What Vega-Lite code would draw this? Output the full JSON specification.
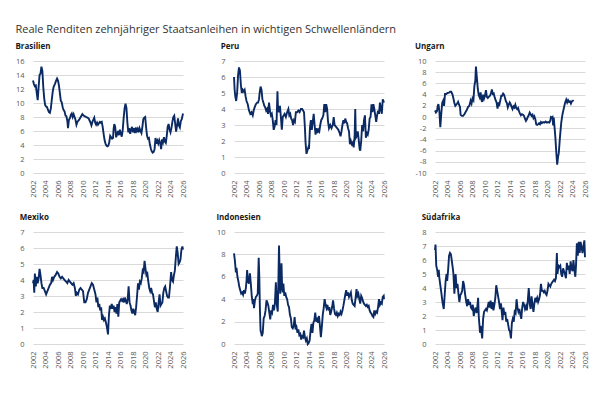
{
"$schema": "https://vega.github.io/schema/vega-lite/v6.json",
"background": "white",
"padding": {"left": 15, "top": 24, "right": 5, "bottom": 5},
"title": {"text": "Reale Renditen zehnjähriger Staatsanleihen in wichtigen Schwellenländern", "anchor": "start", "fontSize": 11, "font": "Open Sans", "fontWeight": "normal", "color": "#333333", "offset": 8},
"config": {
  "font": "Open Sans",
  "view": {"stroke": null},
  "axis": {"labelFont": "Open Sans", "labelFontSize": 7.5, "labelColor": "#595959", "domain": false, "ticks": false, "title": null},
  "axisX": {"grid": false, "labelAngle": -90, "labelPadding": 7},
  "axisY": {"gridColor": "#d9d9d9", "gridWidth": 1, "labelPadding": 9, "labelExpr": "replace(datum.label, '\u2212', '-')"},
  "line": {"color": "#0b2a63", "strokeWidth": 1.9, "clip": true, "strokeJoin": "miter"}
},
"datasets": {
"bra": [{"t":2002.0,"v":13.2},{"t":2002.15,"v":12.7},{"t":2002.3,"v":12.4},{"t":2002.45,"v":12.5},{"t":2002.6,"v":11.4},{"t":2002.75,"v":10.4},{"t":2002.9,"v":12.3},{"t":2003.05,"v":14.0},{"t":2003.2,"v":14.2},{"t":2003.35,"v":15.2},{"t":2003.5,"v":14.6},{"t":2003.65,"v":12.2},{"t":2003.8,"v":10.6},{"t":2003.95,"v":9.7},{"t":2004.1,"v":9.5},{"t":2004.25,"v":9.4},{"t":2004.4,"v":9.0},{"t":2004.55,"v":8.7},{"t":2004.7,"v":8.6},{"t":2004.85,"v":9.2},{"t":2005.0,"v":10.4},{"t":2005.15,"v":11.6},{"t":2005.3,"v":12.3},{"t":2005.5,"v":12.7},{"t":2005.7,"v":13.2},{"t":2005.85,"v":13.5},{"t":2006.0,"v":13.2},{"t":2006.15,"v":12.5},{"t":2006.3,"v":11.4},{"t":2006.45,"v":10.3},{"t":2006.6,"v":10.1},{"t":2006.75,"v":9.4},{"t":2006.9,"v":9.0},{"t":2007.05,"v":8.8},{"t":2007.2,"v":8.2},{"t":2007.35,"v":8.1},{"t":2007.5,"v":7.4},{"t":2007.6,"v":6.4},{"t":2007.75,"v":7.6},{"t":2007.9,"v":7.8},{"t":2008.05,"v":8.3},{"t":2008.2,"v":8.5},{"t":2008.35,"v":8.0},{"t":2008.5,"v":8.4},{"t":2008.65,"v":8.0},{"t":2008.8,"v":7.6},{"t":2008.95,"v":6.9},{"t":2009.1,"v":7.3},{"t":2009.3,"v":7.5},{"t":2009.5,"v":7.8},{"t":2009.7,"v":8.1},{"t":2009.9,"v":8.4},{"t":2010.1,"v":8.2},{"t":2010.3,"v":8.1},{"t":2010.5,"v":8.0},{"t":2010.7,"v":7.9},{"t":2010.9,"v":7.8},{"t":2011.05,"v":7.5},{"t":2011.2,"v":7.2},{"t":2011.35,"v":6.8},{"t":2011.5,"v":7.3},{"t":2011.65,"v":7.6},{"t":2011.8,"v":7.9},{"t":2011.95,"v":7.2},{"t":2012.1,"v":6.9},{"t":2012.25,"v":7.2},{"t":2012.4,"v":6.9},{"t":2012.55,"v":7.1},{"t":2012.7,"v":7.3},{"t":2012.85,"v":7.2},{"t":2013.0,"v":7.3},{"t":2013.15,"v":6.6},{"t":2013.3,"v":5.6},{"t":2013.45,"v":4.7},{"t":2013.6,"v":4.2},{"t":2013.75,"v":3.9},{"t":2013.9,"v":3.8},{"t":2014.05,"v":3.9},{"t":2014.2,"v":4.4},{"t":2014.35,"v":5.3},{"t":2014.5,"v":5.1},{"t":2014.65,"v":4.9},{"t":2014.8,"v":5.0},{"t":2014.9,"v":6.3},{"t":2015.0,"v":7.0},{"t":2015.15,"v":6.6},{"t":2015.3,"v":5.1},{"t":2015.45,"v":5.5},{"t":2015.6,"v":6.0},{"t":2015.75,"v":5.4},{"t":2015.9,"v":6.2},{"t":2016.05,"v":5.6},{"t":2016.2,"v":5.2},{"t":2016.35,"v":6.1},{"t":2016.5,"v":7.8},{"t":2016.65,"v":9.2},{"t":2016.8,"v":9.9},{"t":2016.95,"v":9.3},{"t":2017.1,"v":7.2},{"t":2017.25,"v":5.8},{"t":2017.4,"v":6.4},{"t":2017.55,"v":5.6},{"t":2017.7,"v":6.2},{"t":2017.85,"v":6.6},{"t":2018.0,"v":5.8},{"t":2018.15,"v":6.4},{"t":2018.3,"v":5.7},{"t":2018.45,"v":6.5},{"t":2018.6,"v":6.0},{"t":2018.75,"v":6.3},{"t":2018.9,"v":5.8},{"t":2019.05,"v":6.4},{"t":2019.2,"v":6.0},{"t":2019.35,"v":5.7},{"t":2019.5,"v":6.6},{"t":2019.65,"v":7.7},{"t":2019.8,"v":7.9},{"t":2019.95,"v":8.0},{"t":2020.1,"v":6.5},{"t":2020.25,"v":5.3},{"t":2020.4,"v":4.9},{"t":2020.55,"v":5.0},{"t":2020.7,"v":4.1},{"t":2020.85,"v":3.5},{"t":2021.0,"v":3.1},{"t":2021.15,"v":2.9},{"t":2021.3,"v":3.0},{"t":2021.45,"v":3.4},{"t":2021.6,"v":5.0},{"t":2021.75,"v":4.2},{"t":2021.9,"v":4.6},{"t":2022.05,"v":4.2},{"t":2022.2,"v":4.7},{"t":2022.35,"v":4.3},{"t":2022.5,"v":3.4},{"t":2022.65,"v":4.8},{"t":2022.8,"v":4.4},{"t":2022.95,"v":5.1},{"t":2023.1,"v":4.5},{"t":2023.25,"v":4.3},{"t":2023.4,"v":5.3},{"t":2023.55,"v":6.6},{"t":2023.7,"v":7.0},{"t":2023.85,"v":6.2},{"t":2024.0,"v":5.8},{"t":2024.15,"v":6.4},{"t":2024.3,"v":7.3},{"t":2024.45,"v":8.0},{"t":2024.6,"v":8.2},{"t":2024.75,"v":7.0},{"t":2024.9,"v":5.9},{"t":2025.05,"v":6.8},{"t":2025.2,"v":7.8},{"t":2025.35,"v":6.8},{"t":2025.5,"v":6.5},{"t":2025.65,"v":7.4},{"t":2025.8,"v":7.7},{"t":2026.0,"v":8.5}],
"per": [{"t":2002.0,"v":6.0},{"t":2002.1,"v":5.2},{"t":2002.2,"v":4.8},{"t":2002.35,"v":4.5},{"t":2002.5,"v":5.0},{"t":2002.65,"v":6.1},{"t":2002.8,"v":6.6},{"t":2002.95,"v":6.4},{"t":2003.1,"v":5.5},{"t":2003.25,"v":5.0},{"t":2003.4,"v":5.2},{"t":2003.55,"v":5.1},{"t":2003.7,"v":5.2},{"t":2003.85,"v":4.8},{"t":2004.0,"v":4.5},{"t":2004.2,"v":4.3},{"t":2004.4,"v":3.9},{"t":2004.6,"v":3.7},{"t":2004.8,"v":3.8},{"t":2005.0,"v":3.6},{"t":2005.15,"v":3.9},{"t":2005.3,"v":4.1},{"t":2005.5,"v":4.3},{"t":2005.7,"v":4.4},{"t":2005.85,"v":4.4},{"t":2006.0,"v":4.6},{"t":2006.1,"v":5.0},{"t":2006.25,"v":5.4},{"t":2006.4,"v":5.2},{"t":2006.55,"v":4.6},{"t":2006.7,"v":4.4},{"t":2006.85,"v":4.2},{"t":2007.0,"v":4.1},{"t":2007.15,"v":3.9},{"t":2007.3,"v":4.0},{"t":2007.45,"v":3.7},{"t":2007.6,"v":4.4},{"t":2007.75,"v":3.9},{"t":2007.9,"v":3.6},{"t":2008.05,"v":3.7},{"t":2008.2,"v":3.3},{"t":2008.35,"v":2.7},{"t":2008.5,"v":2.9},{"t":2008.65,"v":3.3},{"t":2008.8,"v":3.0},{"t":2008.95,"v":5.1},{"t":2009.05,"v":4.0},{"t":2009.2,"v":3.8},{"t":2009.35,"v":4.2},{"t":2009.5,"v":3.5},{"t":2009.65,"v":2.7},{"t":2009.8,"v":3.5},{"t":2009.95,"v":3.6},{"t":2010.1,"v":3.7},{"t":2010.3,"v":3.5},{"t":2010.5,"v":3.8},{"t":2010.7,"v":4.0},{"t":2010.85,"v":3.6},{"t":2011.0,"v":3.7},{"t":2011.15,"v":3.4},{"t":2011.3,"v":3.3},{"t":2011.45,"v":3.0},{"t":2011.6,"v":3.3},{"t":2011.75,"v":3.2},{"t":2011.9,"v":3.8},{"t":2012.1,"v":3.8},{"t":2012.3,"v":3.9},{"t":2012.5,"v":3.8},{"t":2012.7,"v":4.0},{"t":2012.9,"v":4.0},{"t":2013.05,"v":3.9},{"t":2013.2,"v":3.8},{"t":2013.35,"v":2.8},{"t":2013.45,"v":1.9},{"t":2013.6,"v":1.2},{"t":2013.75,"v":1.4},{"t":2013.9,"v":1.6},{"t":2014.0,"v":1.5},{"t":2014.15,"v":2.8},{"t":2014.3,"v":3.3},{"t":2014.45,"v":2.7},{"t":2014.6,"v":3.2},{"t":2014.75,"v":3.7},{"t":2014.9,"v":3.0},{"t":2015.05,"v":2.4},{"t":2015.2,"v":2.8},{"t":2015.35,"v":2.5},{"t":2015.5,"v":2.7},{"t":2015.65,"v":2.6},{"t":2015.8,"v":3.0},{"t":2015.95,"v":3.3},{"t":2016.1,"v":3.4},{"t":2016.3,"v":3.6},{"t":2016.45,"v":4.3},{"t":2016.6,"v":3.8},{"t":2016.75,"v":4.3},{"t":2016.9,"v":4.0},{"t":2017.05,"v":3.2},{"t":2017.2,"v":2.8},{"t":2017.4,"v":3.0},{"t":2017.6,"v":2.8},{"t":2017.8,"v":3.0},{"t":2017.95,"v":3.5},{"t":2018.1,"v":3.0},{"t":2018.3,"v":2.9},{"t":2018.5,"v":2.8},{"t":2018.7,"v":2.7},{"t":2018.9,"v":2.5},{"t":2019.05,"v":2.3},{"t":2019.2,"v":2.6},{"t":2019.35,"v":3.0},{"t":2019.5,"v":3.3},{"t":2019.65,"v":3.1},{"t":2019.8,"v":3.4},{"t":2019.95,"v":3.2},{"t":2020.1,"v":3.1},{"t":2020.25,"v":2.8},{"t":2020.4,"v":2.6},{"t":2020.55,"v":1.8},{"t":2020.7,"v":2.0},{"t":2020.85,"v":1.8},{"t":2021.0,"v":1.9},{"t":2021.15,"v":1.6},{"t":2021.3,"v":2.3},{"t":2021.4,"v":4.0},{"t":2021.5,"v":2.2},{"t":2021.65,"v":2.3},{"t":2021.8,"v":2.6},{"t":2021.95,"v":2.1},{"t":2022.1,"v":1.5},{"t":2022.2,"v":1.4},{"t":2022.35,"v":2.0},{"t":2022.5,"v":3.0},{"t":2022.65,"v":2.6},{"t":2022.8,"v":3.3},{"t":2022.95,"v":3.6},{"t":2023.1,"v":2.2},{"t":2023.25,"v":2.5},{"t":2023.4,"v":2.4},{"t":2023.55,"v":2.7},{"t":2023.7,"v":3.4},{"t":2023.85,"v":3.5},{"t":2024.0,"v":4.3},{"t":2024.15,"v":3.8},{"t":2024.3,"v":4.3},{"t":2024.45,"v":4.0},{"t":2024.6,"v":3.6},{"t":2024.75,"v":3.2},{"t":2024.9,"v":3.6},{"t":2025.05,"v":3.9},{"t":2025.2,"v":3.7},{"t":2025.35,"v":4.4},{"t":2025.5,"v":4.0},{"t":2025.65,"v":3.7},{"t":2025.8,"v":4.6},{"t":2026.0,"v":4.4}],
"hun": [{"t":2002.0,"v":1.2},{"t":2002.15,"v":0.8},{"t":2002.3,"v":1.0},{"t":2002.45,"v":2.0},{"t":2002.55,"v":2.3},{"t":2002.7,"v":1.0},{"t":2002.85,"v":-1.8},{"t":2003.0,"v":0.5},{"t":2003.15,"v":2.5},{"t":2003.3,"v":2.9},{"t":2003.45,"v":2.0},{"t":2003.6,"v":4.1},{"t":2003.8,"v":4.1},{"t":2004.0,"v":4.3},{"t":2004.2,"v":4.3},{"t":2004.4,"v":4.5},{"t":2004.6,"v":4.5},{"t":2004.8,"v":4.0},{"t":2004.95,"v":3.3},{"t":2005.1,"v":2.5},{"t":2005.25,"v":2.0},{"t":2005.4,"v":2.2},{"t":2005.55,"v":2.4},{"t":2005.7,"v":2.7},{"t":2005.85,"v":2.2},{"t":2006.0,"v":1.8},{"t":2006.1,"v":0.4},{"t":2006.3,"v":0.2},{"t":2006.5,"v":0.2},{"t":2006.7,"v":0.5},{"t":2006.9,"v":0.9},{"t":2007.1,"v":1.3},{"t":2007.3,"v":1.8},{"t":2007.5,"v":2.0},{"t":2007.7,"v":2.9},{"t":2007.85,"v":2.4},{"t":2008.0,"v":3.3},{"t":2008.15,"v":3.0},{"t":2008.3,"v":5.5},{"t":2008.45,"v":6.5},{"t":2008.55,"v":9.0},{"t":2008.7,"v":7.0},{"t":2008.85,"v":5.0},{"t":2009.0,"v":3.9},{"t":2009.15,"v":3.5},{"t":2009.3,"v":4.4},{"t":2009.45,"v":3.0},{"t":2009.55,"v":2.7},{"t":2009.7,"v":4.0},{"t":2009.85,"v":3.3},{"t":2010.0,"v":3.8},{"t":2010.15,"v":4.8},{"t":2010.3,"v":3.6},{"t":2010.45,"v":3.4},{"t":2010.6,"v":3.6},{"t":2010.8,"v":3.8},{"t":2010.95,"v":4.2},{"t":2011.1,"v":4.9},{"t":2011.25,"v":4.1},{"t":2011.4,"v":4.2},{"t":2011.55,"v":3.5},{"t":2011.7,"v":3.0},{"t":2011.85,"v":2.6},{"t":2012.0,"v":1.5},{"t":2012.15,"v":2.4},{"t":2012.3,"v":2.2},{"t":2012.45,"v":3.0},{"t":2012.6,"v":3.8},{"t":2012.75,"v":3.8},{"t":2012.9,"v":4.2},{"t":2013.05,"v":4.0},{"t":2013.2,"v":3.4},{"t":2013.35,"v":2.8},{"t":2013.5,"v":2.5},{"t":2013.65,"v":1.7},{"t":2013.8,"v":2.2},{"t":2013.95,"v":2.6},{"t":2014.1,"v":2.3},{"t":2014.25,"v":1.8},{"t":2014.4,"v":1.4},{"t":2014.55,"v":1.9},{"t":2014.7,"v":1.7},{"t":2014.85,"v":2.2},{"t":2015.0,"v":1.6},{"t":2015.15,"v":1.4},{"t":2015.3,"v":1.6},{"t":2015.45,"v":1.0},{"t":2015.6,"v":0.6},{"t":2015.75,"v":0.3},{"t":2015.9,"v":0.5},{"t":2016.1,"v":0.4},{"t":2016.25,"v":0.2},{"t":2016.4,"v":-0.3},{"t":2016.55,"v":-0.7},{"t":2016.7,"v":-0.4},{"t":2016.85,"v":0.0},{"t":2017.0,"v":0.3},{"t":2017.15,"v":0.8},{"t":2017.3,"v":0.5},{"t":2017.45,"v":0.2},{"t":2017.6,"v":0.4},{"t":2017.75,"v":-0.2},{"t":2017.9,"v":0.1},{"t":2018.05,"v":-0.4},{"t":2018.2,"v":-1.3},{"t":2018.35,"v":-1.4},{"t":2018.5,"v":-1.3},{"t":2018.65,"v":-1.1},{"t":2018.8,"v":-1.3},{"t":2018.95,"v":-0.9},{"t":2019.1,"v":-1.1},{"t":2019.3,"v":-0.9},{"t":2019.5,"v":-1.0},{"t":2019.7,"v":-0.8},{"t":2019.9,"v":-1.0},{"t":2020.1,"v":-0.9},{"t":2020.3,"v":-1.0},{"t":2020.45,"v":-0.6},{"t":2020.55,"v":0.0},{"t":2020.7,"v":-0.1},{"t":2020.8,"v":0.0},{"t":2020.9,"v":-1.5},{"t":2021.0,"v":-0.1},{"t":2021.1,"v":-1.5},{"t":2021.25,"v":-3.5},{"t":2021.4,"v":-6.2},{"t":2021.55,"v":-8.5},{"t":2021.7,"v":-7.0},{"t":2021.8,"v":-6.5},{"t":2022.0,"v":-3.5},{"t":2022.2,"v":-1.0},{"t":2022.4,"v":0.5},{"t":2022.6,"v":1.5},{"t":2022.8,"v":2.5},{"t":2023.0,"v":3.1},{"t":2023.15,"v":2.6},{"t":2023.3,"v":3.0},{"t":2023.45,"v":2.7},{"t":2023.6,"v":2.8},{"t":2023.75,"v":2.4},{"t":2023.9,"v":2.8},{"t":2024.05,"v":2.9},{"t":2024.2,"v":3.0}],
"mex": [{"t":2002.0,"v":3.8},{"t":2002.1,"v":4.0},{"t":2002.2,"v":3.2},{"t":2002.3,"v":4.4},{"t":2002.45,"v":3.6},{"t":2002.6,"v":4.2},{"t":2002.75,"v":3.8},{"t":2002.9,"v":4.1},{"t":2003.05,"v":4.7},{"t":2003.2,"v":4.3},{"t":2003.35,"v":3.8},{"t":2003.5,"v":3.5},{"t":2003.7,"v":3.5},{"t":2003.9,"v":3.3},{"t":2004.1,"v":3.1},{"t":2004.3,"v":3.3},{"t":2004.5,"v":3.5},{"t":2004.7,"v":3.7},{"t":2004.9,"v":3.8},{"t":2005.05,"v":4.2},{"t":2005.2,"v":4.0},{"t":2005.4,"v":4.2},{"t":2005.6,"v":4.3},{"t":2005.85,"v":4.5},{"t":2006.05,"v":4.4},{"t":2006.25,"v":4.2},{"t":2006.45,"v":4.1},{"t":2006.65,"v":4.2},{"t":2006.85,"v":4.1},{"t":2007.05,"v":4.0},{"t":2007.3,"v":3.9},{"t":2007.5,"v":3.8},{"t":2007.7,"v":4.0},{"t":2007.9,"v":3.9},{"t":2008.1,"v":3.8},{"t":2008.3,"v":3.7},{"t":2008.5,"v":3.8},{"t":2008.7,"v":3.5},{"t":2008.85,"v":3.0},{"t":2009.0,"v":3.2},{"t":2009.2,"v":3.1},{"t":2009.4,"v":3.4},{"t":2009.6,"v":3.5},{"t":2009.8,"v":3.4},{"t":2010.0,"v":3.3},{"t":2010.2,"v":2.6},{"t":2010.4,"v":2.6},{"t":2010.6,"v":2.8},{"t":2010.8,"v":3.2},{"t":2011.0,"v":3.4},{"t":2011.2,"v":3.6},{"t":2011.4,"v":3.8},{"t":2011.6,"v":3.7},{"t":2011.8,"v":3.4},{"t":2012.0,"v":3.1},{"t":2012.15,"v":2.6},{"t":2012.3,"v":2.9},{"t":2012.45,"v":2.3},{"t":2012.6,"v":2.5},{"t":2012.75,"v":2.1},{"t":2012.9,"v":2.3},{"t":2013.05,"v":1.5},{"t":2013.2,"v":1.7},{"t":2013.35,"v":1.5},{"t":2013.5,"v":1.6},{"t":2013.7,"v":1.3},{"t":2013.85,"v":1.0},{"t":2014.0,"v":0.6},{"t":2014.15,"v":1.8},{"t":2014.3,"v":2.4},{"t":2014.45,"v":2.2},{"t":2014.6,"v":2.5},{"t":2014.75,"v":2.2},{"t":2014.9,"v":2.4},{"t":2015.05,"v":2.0},{"t":2015.2,"v":2.3},{"t":2015.35,"v":1.9},{"t":2015.5,"v":2.5},{"t":2015.65,"v":1.7},{"t":2015.8,"v":2.6},{"t":2015.95,"v":2.7},{"t":2016.1,"v":2.8},{"t":2016.25,"v":2.7},{"t":2016.4,"v":2.8},{"t":2016.55,"v":2.6},{"t":2016.7,"v":2.9},{"t":2016.85,"v":2.7},{"t":2017.0,"v":2.5},{"t":2017.15,"v":2.8},{"t":2017.3,"v":3.6},{"t":2017.45,"v":2.6},{"t":2017.6,"v":2.4},{"t":2017.75,"v":2.1},{"t":2017.9,"v":1.9},{"t":2018.05,"v":2.2},{"t":2018.2,"v":2.0},{"t":2018.35,"v":1.8},{"t":2018.5,"v":2.3},{"t":2018.65,"v":3.0},{"t":2018.8,"v":3.8},{"t":2018.95,"v":3.4},{"t":2019.1,"v":3.9},{"t":2019.25,"v":3.8},{"t":2019.4,"v":4.1},{"t":2019.55,"v":4.6},{"t":2019.7,"v":4.5},{"t":2019.85,"v":5.2},{"t":2020.0,"v":4.7},{"t":2020.15,"v":4.3},{"t":2020.3,"v":4.4},{"t":2020.45,"v":3.9},{"t":2020.6,"v":3.5},{"t":2020.75,"v":3.3},{"t":2020.9,"v":3.5},{"t":2021.05,"v":3.2},{"t":2021.2,"v":3.1},{"t":2021.35,"v":2.7},{"t":2021.5,"v":2.3},{"t":2021.65,"v":2.6},{"t":2021.8,"v":2.2},{"t":2021.95,"v":2.0},{"t":2022.1,"v":2.6},{"t":2022.25,"v":3.1},{"t":2022.4,"v":2.4},{"t":2022.55,"v":2.5},{"t":2022.7,"v":2.6},{"t":2022.85,"v":3.2},{"t":2023.0,"v":3.5},{"t":2023.15,"v":3.6},{"t":2023.3,"v":3.3},{"t":2023.45,"v":3.0},{"t":2023.6,"v":2.9},{"t":2023.75,"v":2.9},{"t":2023.9,"v":3.5},{"t":2024.1,"v":4.5},{"t":2024.25,"v":4.0},{"t":2024.4,"v":3.9},{"t":2024.55,"v":4.3},{"t":2024.7,"v":4.6},{"t":2024.85,"v":5.4},{"t":2025.0,"v":6.1},{"t":2025.15,"v":5.7},{"t":2025.3,"v":5.0},{"t":2025.45,"v":5.1},{"t":2025.6,"v":5.3},{"t":2025.75,"v":5.9},{"t":2025.9,"v":6.1},{"t":2026.0,"v":5.9}],
"idn": [{"t":2002.0,"v":8.1},{"t":2002.15,"v":7.4},{"t":2002.3,"v":6.4},{"t":2002.4,"v":6.8},{"t":2002.55,"v":6.0},{"t":2002.7,"v":5.6},{"t":2002.85,"v":5.1},{"t":2003.0,"v":4.8},{"t":2003.15,"v":4.5},{"t":2003.3,"v":4.6},{"t":2003.45,"v":4.4},{"t":2003.6,"v":4.8},{"t":2003.75,"v":4.5},{"t":2003.9,"v":5.0},{"t":2004.0,"v":5.6},{"t":2004.1,"v":6.6},{"t":2004.25,"v":5.6},{"t":2004.4,"v":5.4},{"t":2004.55,"v":6.3},{"t":2004.7,"v":5.3},{"t":2004.85,"v":4.2},{"t":2004.95,"v":3.8},{"t":2005.1,"v":4.0},{"t":2005.2,"v":3.2},{"t":2005.35,"v":3.9},{"t":2005.5,"v":4.2},{"t":2005.65,"v":4.3},{"t":2005.8,"v":4.5},{"t":2005.95,"v":7.7},{"t":2006.05,"v":6.0},{"t":2006.15,"v":3.0},{"t":2006.25,"v":1.2},{"t":2006.35,"v":1.0},{"t":2006.45,"v":0.7},{"t":2006.6,"v":1.0},{"t":2006.75,"v":2.3},{"t":2006.9,"v":2.5},{"t":2007.05,"v":3.0},{"t":2007.2,"v":3.9},{"t":2007.35,"v":3.7},{"t":2007.5,"v":3.4},{"t":2007.65,"v":2.8},{"t":2007.8,"v":2.2},{"t":2007.95,"v":3.0},{"t":2008.1,"v":2.8},{"t":2008.25,"v":3.5},{"t":2008.4,"v":3.0},{"t":2008.55,"v":3.7},{"t":2008.7,"v":5.5},{"t":2008.85,"v":3.5},{"t":2009.0,"v":2.9},{"t":2009.1,"v":5.5},{"t":2009.2,"v":8.8},{"t":2009.3,"v":6.5},{"t":2009.4,"v":4.5},{"t":2009.5,"v":5.5},{"t":2009.6,"v":7.2},{"t":2009.7,"v":5.0},{"t":2009.8,"v":4.6},{"t":2009.9,"v":5.4},{"t":2010.05,"v":4.3},{"t":2010.2,"v":4.6},{"t":2010.35,"v":4.2},{"t":2010.5,"v":4.0},{"t":2010.65,"v":3.5},{"t":2010.8,"v":3.3},{"t":2010.95,"v":2.6},{"t":2011.1,"v":2.3},{"t":2011.25,"v":1.5},{"t":2011.4,"v":1.4},{"t":2011.55,"v":1.6},{"t":2011.7,"v":2.4},{"t":2011.85,"v":1.3},{"t":2012.0,"v":1.5},{"t":2012.15,"v":1.0},{"t":2012.3,"v":1.3},{"t":2012.45,"v":0.8},{"t":2012.6,"v":0.9},{"t":2012.75,"v":0.4},{"t":2012.9,"v":0.7},{"t":2013.05,"v":0.6},{"t":2013.2,"v":1.2},{"t":2013.35,"v":0.6},{"t":2013.5,"v":0.3},{"t":2013.65,"v":0.5},{"t":2013.8,"v":0.0},{"t":2013.95,"v":0.1},{"t":2014.1,"v":0.3},{"t":2014.25,"v":1.2},{"t":2014.4,"v":1.8},{"t":2014.55,"v":1.0},{"t":2014.7,"v":1.9},{"t":2014.85,"v":2.1},{"t":2015.0,"v":2.8},{"t":2015.15,"v":2.0},{"t":2015.3,"v":2.2},{"t":2015.45,"v":1.9},{"t":2015.6,"v":2.5},{"t":2015.75,"v":1.6},{"t":2015.9,"v":0.6},{"t":2016.05,"v":1.5},{"t":2016.2,"v":2.6},{"t":2016.35,"v":3.2},{"t":2016.5,"v":4.0},{"t":2016.65,"v":3.5},{"t":2016.8,"v":3.2},{"t":2016.95,"v":3.5},{"t":2017.1,"v":3.0},{"t":2017.25,"v":3.3},{"t":2017.4,"v":2.6},{"t":2017.55,"v":2.9},{"t":2017.7,"v":3.3},{"t":2017.85,"v":3.9},{"t":2018.0,"v":3.2},{"t":2018.15,"v":2.7},{"t":2018.3,"v":2.6},{"t":2018.45,"v":2.8},{"t":2018.6,"v":2.5},{"t":2018.75,"v":2.7},{"t":2018.9,"v":2.6},{"t":2019.05,"v":2.9},{"t":2019.2,"v":2.7},{"t":2019.35,"v":3.0},{"t":2019.5,"v":3.4},{"t":2019.65,"v":3.9},{"t":2019.8,"v":4.4},{"t":2019.95,"v":4.8},{"t":2020.1,"v":4.3},{"t":2020.25,"v":4.6},{"t":2020.4,"v":4.2},{"t":2020.55,"v":4.4},{"t":2020.7,"v":4.6},{"t":2020.85,"v":3.9},{"t":2021.0,"v":3.6},{"t":2021.15,"v":3.5},{"t":2021.3,"v":3.4},{"t":2021.45,"v":4.1},{"t":2021.6,"v":4.9},{"t":2021.75,"v":4.3},{"t":2021.9,"v":4.5},{"t":2022.05,"v":4.0},{"t":2022.2,"v":3.6},{"t":2022.35,"v":4.3},{"t":2022.5,"v":4.1},{"t":2022.65,"v":3.8},{"t":2022.8,"v":3.6},{"t":2022.95,"v":3.5},{"t":2023.1,"v":3.4},{"t":2023.25,"v":3.5},{"t":2023.4,"v":3.3},{"t":2023.55,"v":3.4},{"t":2023.7,"v":3.0},{"t":2023.85,"v":2.8},{"t":2024.0,"v":2.7},{"t":2024.15,"v":2.5},{"t":2024.3,"v":2.4},{"t":2024.45,"v":3.0},{"t":2024.6,"v":2.7},{"t":2024.75,"v":2.9},{"t":2024.9,"v":2.8},{"t":2025.05,"v":3.3},{"t":2025.2,"v":4.0},{"t":2025.35,"v":3.5},{"t":2025.5,"v":3.7},{"t":2025.65,"v":3.6},{"t":2025.8,"v":4.2},{"t":2025.95,"v":4.3},{"t":2026.0,"v":4.0}],
"zaf": [{"t":2002.0,"v":6.7},{"t":2002.08,"v":7.1},{"t":2002.2,"v":5.6},{"t":2002.35,"v":5.3},{"t":2002.5,"v":4.8},{"t":2002.6,"v":5.3},{"t":2002.7,"v":4.7},{"t":2002.85,"v":4.2},{"t":2003.0,"v":3.7},{"t":2003.2,"v":3.0},{"t":2003.4,"v":2.5},{"t":2003.55,"v":3.5},{"t":2003.7,"v":4.5},{"t":2003.85,"v":5.0},{"t":2003.95,"v":4.5},{"t":2004.1,"v":5.3},{"t":2004.25,"v":6.3},{"t":2004.4,"v":6.5},{"t":2004.55,"v":6.4},{"t":2004.7,"v":5.9},{"t":2004.85,"v":5.4},{"t":2004.95,"v":5.0},{"t":2005.1,"v":3.6},{"t":2005.2,"v":4.4},{"t":2005.3,"v":5.0},{"t":2005.45,"v":4.0},{"t":2005.6,"v":4.3},{"t":2005.75,"v":3.6},{"t":2005.9,"v":3.0},{"t":2006.05,"v":3.5},{"t":2006.2,"v":3.6},{"t":2006.35,"v":3.8},{"t":2006.5,"v":4.5},{"t":2006.65,"v":4.2},{"t":2006.8,"v":3.6},{"t":2007.0,"v":3.0},{"t":2007.15,"v":2.7},{"t":2007.3,"v":3.2},{"t":2007.45,"v":2.8},{"t":2007.6,"v":3.0},{"t":2007.75,"v":2.6},{"t":2007.9,"v":2.5},{"t":2008.05,"v":2.8},{"t":2008.2,"v":2.0},{"t":2008.35,"v":2.4},{"t":2008.5,"v":2.6},{"t":2008.65,"v":2.2},{"t":2008.8,"v":2.8},{"t":2008.9,"v":3.3},{"t":2009.0,"v":2.0},{"t":2009.1,"v":1.4},{"t":2009.2,"v":0.8},{"t":2009.3,"v":1.3},{"t":2009.45,"v":0.8},{"t":2009.55,"v":0.4},{"t":2009.7,"v":1.8},{"t":2009.85,"v":2.3},{"t":2010.0,"v":2.4},{"t":2010.15,"v":2.5},{"t":2010.3,"v":2.4},{"t":2010.45,"v":2.7},{"t":2010.6,"v":3.0},{"t":2010.75,"v":2.6},{"t":2010.9,"v":3.1},{"t":2011.05,"v":2.5},{"t":2011.2,"v":3.0},{"t":2011.35,"v":2.4},{"t":2011.5,"v":2.8},{"t":2011.65,"v":3.3},{"t":2011.8,"v":4.2},{"t":2011.95,"v":3.8},{"t":2012.1,"v":3.4},{"t":2012.25,"v":3.0},{"t":2012.4,"v":2.5},{"t":2012.55,"v":2.9},{"t":2012.7,"v":2.2},{"t":2012.8,"v":1.7},{"t":2012.95,"v":2.6},{"t":2013.1,"v":2.1},{"t":2013.25,"v":2.3},{"t":2013.4,"v":1.6},{"t":2013.55,"v":1.8},{"t":2013.7,"v":1.4},{"t":2013.85,"v":1.0},{"t":2014.0,"v":0.9},{"t":2014.15,"v":0.4},{"t":2014.3,"v":1.5},{"t":2014.45,"v":1.8},{"t":2014.6,"v":1.6},{"t":2014.75,"v":2.3},{"t":2014.9,"v":2.2},{"t":2015.05,"v":3.2},{"t":2015.2,"v":2.6},{"t":2015.35,"v":2.3},{"t":2015.5,"v":2.5},{"t":2015.65,"v":2.1},{"t":2015.8,"v":1.8},{"t":2015.95,"v":2.6},{"t":2016.1,"v":3.0},{"t":2016.25,"v":2.8},{"t":2016.4,"v":2.5},{"t":2016.55,"v":2.7},{"t":2016.7,"v":2.4},{"t":2016.85,"v":3.1},{"t":2017.0,"v":4.0},{"t":2017.15,"v":2.9},{"t":2017.3,"v":2.5},{"t":2017.45,"v":3.4},{"t":2017.6,"v":2.8},{"t":2017.75,"v":2.3},{"t":2017.9,"v":2.9},{"t":2018.05,"v":3.3},{"t":2018.2,"v":3.1},{"t":2018.35,"v":3.3},{"t":2018.5,"v":3.0},{"t":2018.65,"v":3.2},{"t":2018.8,"v":3.5},{"t":2018.95,"v":4.3},{"t":2019.1,"v":3.8},{"t":2019.25,"v":3.8},{"t":2019.4,"v":3.7},{"t":2019.55,"v":3.8},{"t":2019.7,"v":3.6},{"t":2019.85,"v":3.5},{"t":2020.0,"v":3.8},{"t":2020.15,"v":4.3},{"t":2020.3,"v":4.2},{"t":2020.45,"v":4.1},{"t":2020.6,"v":4.3},{"t":2020.75,"v":4.4},{"t":2020.9,"v":4.5},{"t":2021.05,"v":4.6},{"t":2021.2,"v":4.5},{"t":2021.35,"v":4.7},{"t":2021.5,"v":6.5},{"t":2021.6,"v":5.0},{"t":2021.75,"v":5.6},{"t":2021.9,"v":5.5},{"t":2022.05,"v":5.6},{"t":2022.2,"v":5.0},{"t":2022.35,"v":4.8},{"t":2022.5,"v":5.4},{"t":2022.65,"v":5.2},{"t":2022.8,"v":5.0},{"t":2022.95,"v":4.7},{"t":2023.1,"v":5.8},{"t":2023.25,"v":5.3},{"t":2023.4,"v":5.6},{"t":2023.55,"v":5.0},{"t":2023.7,"v":5.9},{"t":2023.85,"v":5.4},{"t":2024.0,"v":5.2},{"t":2024.15,"v":6.0},{"t":2024.3,"v":5.3},{"t":2024.45,"v":4.8},{"t":2024.55,"v":5.5},{"t":2024.7,"v":7.2},{"t":2024.85,"v":6.3},{"t":2025.0,"v":7.3},{"t":2025.15,"v":6.5},{"t":2025.3,"v":7.3},{"t":2025.45,"v":6.9},{"t":2025.6,"v":6.5},{"t":2025.75,"v":7.0},{"t":2025.9,"v":7.4},{"t":2026.0,"v":6.2}]
},
"columns": 3,
"bounds": "flush",
"spacing": {"row": 59, "column": 51},
"concat": [
{"width": 150, "height": 112, "data": {"name": "bra"},
 "title": {"text": "Brasilien", "anchor": "start", "frame": "bounds", "fontSize": 8, "fontWeight": "bold", "color": "#1a1a1a", "offset": 6},
 "mark": {"type": "line"},
 "encoding": {
  "x": {"field": "t", "type": "quantitative", "scale": {"domain": [2002, 2026], "nice": false, "zero": false}, "axis": {"values": [2002,2004,2006,2008,2010,2012,2014,2016,2018,2020,2022,2024,2026], "format": "d"}},
  "y": {"field": "v", "type": "quantitative", "scale": {"domain": [0, 16], "nice": false}, "axis": {"values": [0,2,4,6,8,10,12,14,16]}}}},
{"width": 150, "height": 112, "data": {"name": "per"},
 "title": {"text": "Peru", "anchor": "start", "frame": "bounds", "fontSize": 8, "fontWeight": "bold", "color": "#1a1a1a", "offset": 6},
 "mark": {"type": "line"},
 "encoding": {
  "x": {"field": "t", "type": "quantitative", "scale": {"domain": [2002, 2026], "nice": false, "zero": false}, "axis": {"values": [2002,2004,2006,2008,2010,2012,2014,2016,2018,2020,2022,2024,2026], "format": "d"}},
  "y": {"field": "v", "type": "quantitative", "scale": {"domain": [0, 7], "nice": false}, "axis": {"values": [0,1,2,3,4,5,6,7]}}}},
{"width": 150, "height": 112, "data": {"name": "hun"},
 "title": {"text": "Ungarn", "anchor": "start", "frame": "bounds", "fontSize": 8, "fontWeight": "bold", "color": "#1a1a1a", "offset": 6},
 "mark": {"type": "line"},
 "encoding": {
  "x": {"field": "t", "type": "quantitative", "scale": {"domain": [2002, 2026], "nice": false, "zero": false}, "axis": {"values": [2002,2004,2006,2008,2010,2012,2014,2016,2018,2020,2022,2024,2026], "format": "d"}},
  "y": {"field": "v", "type": "quantitative", "scale": {"domain": [-10, 10], "nice": false}, "axis": {"values": [-10,-8,-6,-4,-2,0,2,4,6,8,10]}}}},
{"width": 150, "height": 112, "data": {"name": "mex"},
 "title": {"text": "Mexiko", "anchor": "start", "frame": "bounds", "fontSize": 8, "fontWeight": "bold", "color": "#1a1a1a", "offset": 6},
 "mark": {"type": "line"},
 "encoding": {
  "x": {"field": "t", "type": "quantitative", "scale": {"domain": [2002, 2026], "nice": false, "zero": false}, "axis": {"values": [2002,2004,2006,2008,2010,2012,2014,2016,2018,2020,2022,2024,2026], "format": "d"}},
  "y": {"field": "v", "type": "quantitative", "scale": {"domain": [0, 7], "nice": false}, "axis": {"values": [0,1,2,3,4,5,6,7]}}}},
{"width": 150, "height": 112, "data": {"name": "idn"},
 "title": {"text": "Indonesien", "anchor": "start", "frame": "bounds", "fontSize": 8, "fontWeight": "bold", "color": "#1a1a1a", "offset": 6},
 "mark": {"type": "line"},
 "encoding": {
  "x": {"field": "t", "type": "quantitative", "scale": {"domain": [2002, 2026], "nice": false, "zero": false}, "axis": {"values": [2002,2004,2006,2008,2010,2012,2014,2016,2018,2020,2022,2024,2026], "format": "d"}},
  "y": {"field": "v", "type": "quantitative", "scale": {"domain": [0, 10], "nice": false}, "axis": {"values": [0,2,4,6,8,10]}}}},
{"width": 150, "height": 112, "data": {"name": "zaf"},
 "title": {"text": "Südafrika", "anchor": "start", "frame": "bounds", "fontSize": 8, "fontWeight": "bold", "color": "#1a1a1a", "offset": 6},
 "mark": {"type": "line"},
 "encoding": {
  "x": {"field": "t", "type": "quantitative", "scale": {"domain": [2002, 2026], "nice": false, "zero": false}, "axis": {"values": [2002,2004,2006,2008,2010,2012,2014,2016,2018,2020,2022,2024,2026], "format": "d"}},
  "y": {"field": "v", "type": "quantitative", "scale": {"domain": [0, 8], "nice": false}, "axis": {"values": [0,1,2,3,4,5,6,7,8]}}}}
]
}
